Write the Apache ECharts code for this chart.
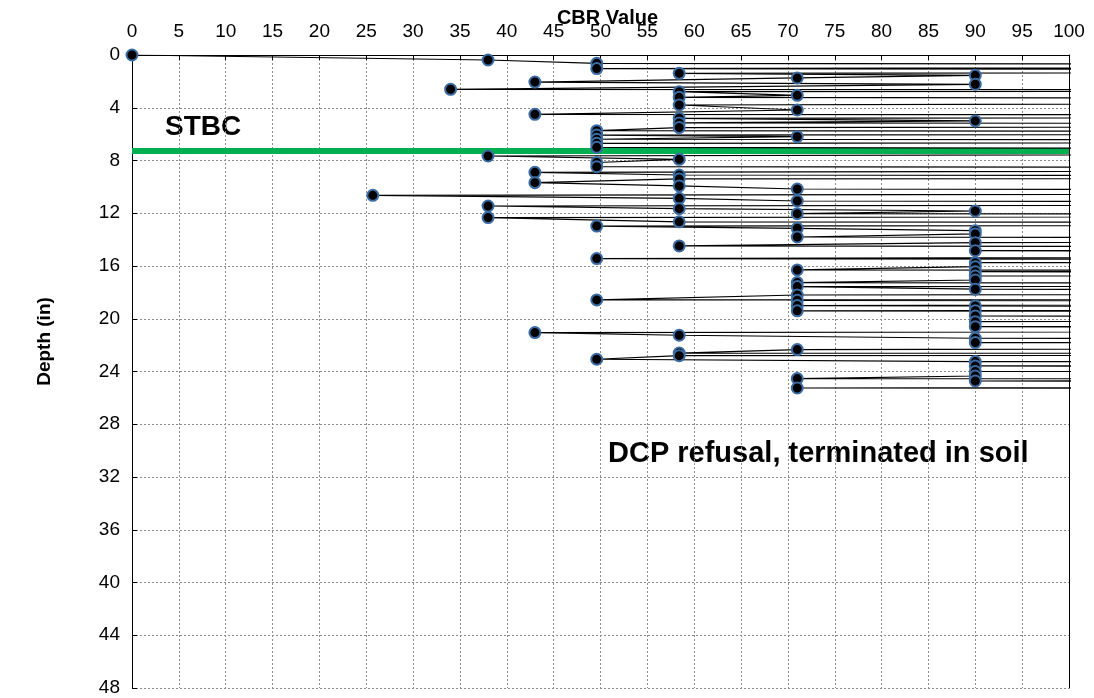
<!DOCTYPE html>
<html>
<head>
<meta charset="utf-8">
<script src="https://cdn.jsdelivr.net/npm/echarts@6/dist/echarts.min.js"></script>
<style>html,body{margin:0;padding:0;background:#fff}#c{width:1094px;height:698px}</style>
</head>
<body>
<div id="c"></div>
<script>
// CBR value (x) and depth in inches (y), in test order; values above 100 run off the plot
var cbrValues = [0,38,49.6,292,49.6,292,58.4,90,71,43,90,34,292,58.4,71,58.4,292,58.4,71,43,292,58.4,90,58.4,292,58.4,49.6,292,49.6,71,49.6,292,49.6,49.6,292,38,58.4,49.6,49.6,292,43,58.4,292,58.4,43,58.4,71,292,25.7,58.4,71,292,38,58.4,90,71,292,38,58.4,292,49.6,71,90,90,71,292,90,58.4,292,90,292,49.6,292,90,90,71,292,90,292,90,90,71,292,71,90,292,71,49.6,292,71,292,71,90,292,90,71,292,90,292,90,292,90,292,43,58.4,90,292,90,292,71,58.4,292,58.4,49.6,90,292,90,292,90,90,71,292,90,292,71,292];
var depths =    [0,0.38,0.63,0.80,1.03,1.20,1.39,1.54,1.74,2.05,2.22,2.60,2.70,2.78,3.06,3.21,3.40,3.79,4.17,4.50,4.62,4.80,5.00,5.15,5.30,5.50,5.74,5.90,6.07,6.19,6.39,6.55,6.70,7.00,7.30,7.66,7.91,8.15,8.47,8.60,8.90,9.10,9.25,9.40,9.68,9.93,10.16,10.40,10.64,10.87,11.07,11.25,11.45,11.65,11.83,12.03,12.15,12.33,12.65,12.80,12.97,13.14,13.32,13.57,13.80,14.00,14.23,14.48,14.65,14.84,15.10,15.44,15.60,15.75,16.05,16.30,16.35,16.43,16.60,16.76,17.06,17.26,17.40,17.56,17.76,17.95,18.20,18.57,18.58,18.60,18.80,19.00,19.03,19.20,19.39,19.40,19.60,19.79,20.00,20.22,20.40,20.60,20.85,21.05,21.25,21.48,21.65,21.81,22.10,22.34,22.60,22.70,22.80,23.07,23.25,23.40,23.58,23.80,24.00,24.34,24.54,24.62,24.72,25.00,25.25,25.30];
var xTickInterval = 5, xMin = 0, xMax = 100;
var yTickInterval = 4, yMin = 0, yMax = 48;
var stbcDepth = 7.28;
var stbcX = [0, 100];
var labelStbc = 'STBC';
var labelRefusal = 'DCP refusal, terminated in soil';

var pts = cbrValues.map(function(v, i){ return [v, depths[i]]; });
var stbc = stbcX.map(function(v){ return [v, stbcDepth]; });

var chart = echarts.init(document.getElementById('c'));
var font = 'Liberation Sans, Arial, sans-serif';
var grid = {color: '#8c8c8c', type: [2, 2], width: 1};
chart.setOption({
  animation: false,
  backgroundColor: '#fff',
  grid: {left: 132, right: 25, top: 55, bottom: 10, containLabel: false, outerBoundsMode: 'none'},
  xAxis: {
    type: 'value', position: 'top', min: xMin, max: xMax, interval: xTickInterval,
    name: 'CBR Value', nameLocation: 'middle', nameGap: 27, nameMoveOverlap: false,
    nameTextStyle: {fontFamily: font, fontWeight: 'bold', fontSize: 20, color: '#000', padding: [0, 0, 0, 14]},
    axisLine: {show: true, lineStyle: {color: '#000', width: 1}},
    axisTick: {show: true, inside: true, length: 5, lineStyle: {color: '#000'}},
    axisLabel: {fontFamily: font, fontSize: 19, color: '#000', margin: 14},
    splitLine: {show: true, lineStyle: grid}
  },
  yAxis: [{
    type: 'value', inverse: true, min: yMin, max: yMax, interval: yTickInterval,
    name: 'Depth (in)', nameLocation: 'middle', nameGap: 78, nameRotate: 90, nameMoveOverlap: false,
    nameTextStyle: {fontFamily: font, fontWeight: 'bold', fontSize: 19, color: '#000', padding: [0, 0, 0, 60]},
    axisLine: {show: true, lineStyle: {color: '#000', width: 1}},
    axisTick: {show: true, inside: true, length: 5, lineStyle: {color: '#000'}},
    axisLabel: {fontFamily: font, fontSize: 19, color: '#000', margin: 12},
    splitLine: {show: true, lineStyle: grid}
  }, {
    type: 'value', inverse: true, min: yMin, max: yMax, interval: yTickInterval, position: 'right',
    axisLine: {show: true, lineStyle: {color: '#000', width: 1}},
    axisTick: {show: false}, axisLabel: {show: false}, splitLine: {show: false}
  }],
  series: [
    {
      type: 'line', data: stbc, symbol: 'none', clip: true, z: 1,
      lineStyle: {color: '#00b050', width: 6}
    },
    {
      type: 'line', data: pts, clip: true, z: 3,
      symbol: 'circle', symbolSize: 11, showAllSymbol: true,
      lineStyle: {color: '#000', width: 1.2},
      itemStyle: {color: '#000', borderColor: '#3c6ca3', borderWidth: 2}
    }
  ],
  graphic: [
    {type: 'text', left: 165, top: 113, style: {text: labelStbc, fontFamily: font, fontWeight: 'bold', fontSize: 28, fill: '#000'}},
    {type: 'text', left: 608, top: 439, style: {text: labelRefusal, fontFamily: font, fontWeight: 'bold', fontSize: 29, fill: '#000'}}
  ]
});
</script>
</body>
</html>
